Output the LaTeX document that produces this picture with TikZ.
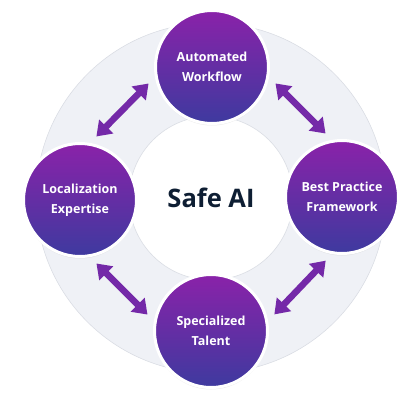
\documentclass[tikz,border=0pt]{standalone}
\usepackage{fontspec}
\setmainfont{Open Sans}
\usetikzlibrary{arrows.meta, shadows}
\definecolor{ringgray}{HTML}{EFF1F6}
\definecolor{ringedge}{HTML}{DADDE4}
\definecolor{toppurple}{HTML}{8A22A9}
\definecolor{botindigo}{HTML}{3E3A9F}
\definecolor{arrpurple}{HTML}{7429A8}
\definecolor{safenavy}{HTML}{0E1E33}

\begin{document}
\begin{tikzpicture}[
    x=1pt, y=1pt,
    pillar/.style={circle, minimum size=113pt, inner sep=0pt, top color=toppurple, bottom color=botindigo,
                   draw=white, line width=3pt, text=white, align=center,
                   font=\bfseries\fontsize{12.5}{20}\selectfont,
                   drop shadow={opacity=0.15, shadow xshift=0pt, shadow yshift=-2pt}},
    link/.style={{Triangle[length=14pt,width=19pt]}-{Triangle[length=14pt,width=19pt]},
                 line width=6.5pt, draw=arrpurple, shorten <=9pt, shorten >=9pt},
]
\useasboundingbox (-211,-199) rectangle (203,198);

% Ring behind the circles
\fill[ringgray, draw=ringedge, line width=0.6pt] (0,0) circle (175);
\fill[white, draw=ringedge, line width=0.6pt] (0,0) circle (82);

% Centre title
\node[font=\bfseries\fontsize{25.5}{30}\selectfont, text=safenavy] (safe) at (0,0) {Safe AI};

% The four pillars
\node[pillar] (auto) at (1,131) {Automated\\Workflow};
\node[pillar] (best) at (131,1) {Best Practice\\Framework};
\node[pillar] (talent) at (0,-133) {Specialized\\Talent};
\node[pillar] (local) at (-131,-2) {Localization\\Expertise};

% Arrows between pillars
\draw[link] (local.80) -- (auto.190);
\draw[link] (auto.350) -- (best.100);
\draw[link] (best.260) -- (talent.10);
\draw[link] (talent.170) -- (local.280);

\end{tikzpicture}
\end{document}
